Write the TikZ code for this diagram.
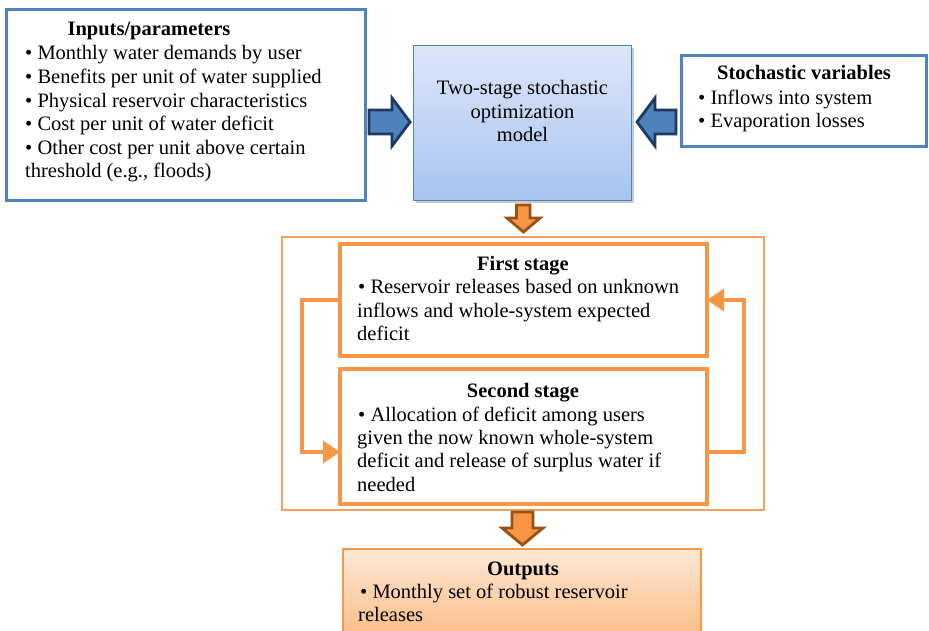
\documentclass[tikz,border=0pt]{standalone}
\usepackage{fontspec}
\setmainfont{Liberation Serif}
\usetikzlibrary{arrows.meta,shadows}
\definecolor{bluebd}{HTML}{4F81BD}
\definecolor{navy}{HTML}{1F3A5F}
\definecolor{orng}{HTML}{F79646}
\definecolor{frameorng}{HTML}{F8A060}
\definecolor{dorng}{HTML}{9A5212}
\definecolor{cbtop}{HTML}{DCE6F9}
\definecolor{cbbot}{HTML}{A8C3F0}
\definecolor{otop}{HTML}{FDE8D6}
\definecolor{obot}{HTML}{FAB77C}
\begin{document}
\begin{tikzpicture}[x=1pt,y=-1pt,
  txt/.style={font=\fontsize{20.5}{23.7}\selectfont, inner sep=0pt, anchor=base west},
  ttl/.style={font=\fontsize{20.5}{23.7}\selectfont\bfseries, inner sep=0pt, anchor=base},
  ctr/.style={font=\fontsize{20.5}{23.7}\selectfont, inner sep=0pt, anchor=base},
  bluebox/.style={draw=bluebd, line width=3.2pt, fill=white, inner sep=0pt, outer sep=0pt, anchor=north west},
  stagebox/.style={draw=orng, line width=4.5pt, inner sep=0pt, outer sep=0pt, anchor=north west},
  blockblue/.style={fill=bluebd, draw=navy, line width=2.8pt, line join=miter},
  blockorng/.style={fill=orng, draw=dorng, line width=2.8pt, line join=miter},
  loopline/.style={draw=orng, line width=4.5pt, -{Triangle[length=17pt 0 0,width=22pt 0 0]}},
]
\useasboundingbox (0,0) rectangle (929,631);
\clip (0,0) rectangle (929,631);
\fill[white] (0,0) rectangle (929,631);

% boxes
\node[bluebox, minimum width=359pt, minimum height=191pt] (inp) at (6.5,9.5) {};
\node[draw=bluebd, line width=1.5pt, top color=cbtop, bottom color=cbbot,
      inner sep=0pt, outer sep=0pt, anchor=north west,
      minimum width=218pt, minimum height=155pt,
      drop shadow={shadow xshift=2pt,shadow yshift=-3pt,opacity=0.35,fill=black!60}] (model) at (413.5,45.5) {};
\node[bluebox, minimum width=245pt, minimum height=91pt] (stoch) at (681.5,55.5) {};
\node[draw=frameorng, line width=2pt, inner sep=0pt, outer sep=0pt, anchor=north west,
      minimum width=482pt, minimum height=272pt] (outer) at (281.5,237.5) {};
\node[stagebox, minimum width=367pt, minimum height=112pt] (s1) at (340,244) {};
\node[stagebox, minimum width=367pt, minimum height=135pt] (s2) at (340,369) {};
\node[draw=orng, line width=2pt, top color=otop, bottom color=obot,
      inner sep=0pt, outer sep=0pt, anchor=north west,
      minimum width=358pt, minimum height=100pt] (outp) at (343,549) {};

% loop connectors
\draw[loopline] (s1.west) -- ++(-38,0) |- ([yshift=-15.5pt]s2.west);
\draw[loopline] ([yshift=-15.5pt]s2.east) -- ++(37,0) |- (s1.east);

% block arrows
\draw[blockblue] (369,110) -- (392,110) -- (392,98) -- (410,122) -- (392,146) -- (392,134) -- (369,134) -- cycle;
\draw[blockblue] (676,110) -- (655,110) -- (655,98) -- (637,122) -- (655,146) -- (655,134) -- (676,134) -- cycle;
\draw[blockorng] (516.5,205) -- (530,205) -- (530,218) -- (540,218) -- (523.5,232) -- (507,218) -- (516.5,218) -- cycle;
\draw[blockorng] (512,512) -- (533,512) -- (533,528) -- (543,528) -- (522.5,545) -- (502,528) -- (512,528) -- cycle;

% inputs text
\node[ttl] (inpT) at (149,36) {Inputs/parameters};
\node[txt] (inp1) at (25,60) {\textbullet\ Monthly water demands by user};
\node[txt] (inp2) at (25,83.6) {\textbullet\ Benefits per unit of water supplied};
\node[txt] (inp3) at (25,107.2) {\textbullet\ Physical reservoir characteristics};
\node[txt] (inp4) at (25,130.8) {\textbullet\ Cost per unit of water deficit};
\node[txt] (inp5) at (25,154.4) {\textbullet\ Other cost per unit above certain};
\node[txt] (inp6) at (25,178) {threshold (e.g., floods)};

% model text
\node[ctr] (m1) at (522.5,95) {Two-stage stochastic};
\node[ctr] (m2) at (522.5,119) {optimization};
\node[ctr] (m3) at (522.5,142) {model};

% stochastic text
\node[ttl] (stT) at (804,80) {Stochastic variables};
\node[txt] (st1) at (698,105) {\textbullet\ Inflows into system};
\node[txt] (st2) at (698,128) {\textbullet\ Evaporation losses};

% first stage
\node[ttl] (f0) at (523,270) {First stage};
\node[txt] (f1) at (358,293) {\textbullet\ Reservoir releases based on unknown};
\node[txt] (f2) at (357,317) {inflows and whole-system expected};
\node[txt] (f3) at (357,340) {deficit};

% second stage
\node[ttl] (g0) at (523,397) {Second stage};
\node[txt] (g1) at (358,421) {\textbullet\ Allocation of deficit among users};
\node[txt] (g2) at (357,444) {given the now known whole-system};
\node[txt] (g3) at (357,467) {deficit and release of surplus water if};
\node[txt] (g4) at (357,491) {needed};

% outputs
\node[ttl] (o0) at (523,575) {Outputs};
\node[txt] (o1) at (360,598) {\textbullet\ Monthly set of robust reservoir};
\node[txt] (o2) at (358,621) {releases};
\end{tikzpicture}
\end{document}
